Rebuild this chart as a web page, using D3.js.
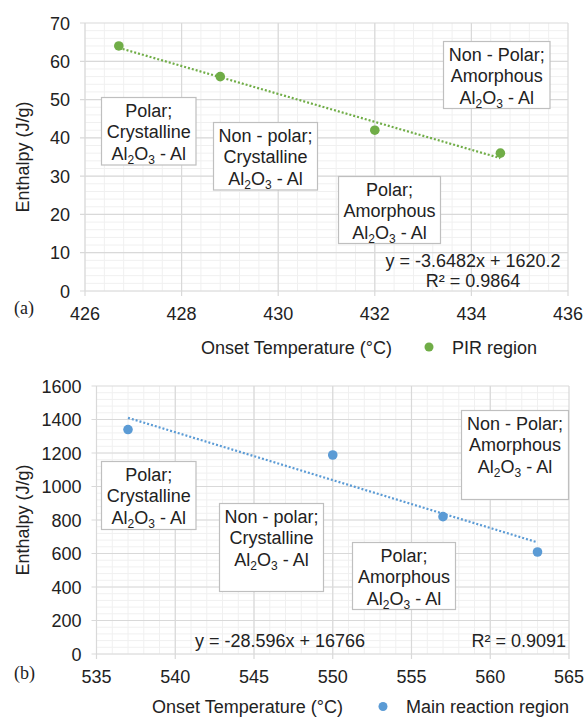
<!DOCTYPE html>
<html>
<head>
<meta charset="utf-8">
<script src="https://cdn.jsdelivr.net/npm/d3@7"></script>
<style>
  body { margin: 0; background: #fff; }
  svg text { font-family: "Liberation Sans", Arial, sans-serif; fill: #222; }
</style>
</head>
<body>
<div id="chart"></div>
<script>
// data
const pirTemp = [426.7, 428.8, 432.0, 434.6];
const pirEnthalpy = [64, 56, 42, 36];
const mainTemp = [537, 550, 557, 563];
const mainEnthalpy = [1340, 1188, 820, 609];

const pirXTicks = [426, 428, 430, 432, 434, 436];
const pirYTicks = [0, 10, 20, 30, 40, 50, 60, 70];
const mainXTicks = [535, 540, 545, 550, 555, 560, 565];
const mainYTicks = [0, 200, 400, 600, 800, 1000, 1200, 1400, 1600];

// linear fits as printed on the chart
const fitSlopes = [-3.6482, -28.596];
const fitIntercepts = [1620.2, 16766];
const fitEquations = ["y = -3.6482x + 1620.2", "y = -28.596x + 16766"];
const fitR2 = ["R² = 0.9864", "R² = 0.9091"];

const seriesNames = ["PIR region", "Main reaction region"];
const panelTags = ["(a)", "(b)"];
const boxLabels = [
    ["Polar;", "Crystalline"],
    ["Non - polar;", "Crystalline"],
    ["Non - Polar;", "Amorphous"],
    ["Polar;", "Amorphous"]
];

const FS = "18px";

const svg = d3.select("#chart").append("svg")
    .attr("width", 585)
    .attr("height", 717);

const panels = [
    {
        xs: pirTemp, ys: pirEnthalpy, xTicks: pirXTicks, yTicks: pirYTicks,
        left: 85, right: 568, top: 23, bottom: 291, color: "#70ad47",
        boxes: [
            { x: 101.5, y: 97.5, w: 94.5, h: 67.5 },
            { x: 213.5, y: 122.5, w: 104, h: 67.5 },
            { x: 443.5, y: 41.5, w: 106.5, h: 67 },
            { x: 338.5, y: 176.5, w: 102, h: 67 }
        ],
        eq: { x: 473, y: 266.5, anchor: "middle" },
        r2: { x: 473, y: 287, anchor: "middle" },
        titleX: 201, titleY: 353.5, dotX: 429, tagY: 314
    },
    {
        xs: mainTemp, ys: mainEnthalpy, xTicks: mainXTicks, yTicks: mainYTicks,
        left: 96.5, right: 569, top: 386, bottom: 654, color: "#5b9bd5",
        boxes: [
            { x: 101.5, y: 461.5, w: 94.5, h: 68 },
            { x: 219.5, y: 503.5, w: 104, h: 88 },
            { x: 461.5, y: 410.5, w: 107, h: 89 },
            { x: 352.5, y: 542.5, w: 103, h: 67 }
        ],
        eq: { x: 195, y: 646.5, anchor: "start" },
        r2: { x: 566, y: 646.5, anchor: "end" },
        titleX: 152, titleY: 713, dotX: 383, tagY: 679
    }
];

panels.forEach((p, i) => {
    const xScale = d3.scaleLinear()
        .domain(d3.extent(p.xTicks))
        .range([p.left, p.right]);
    const yScale = d3.scaleLinear()
        .domain(d3.extent(p.yTicks))
        .range([p.bottom, p.top]);

    const g = svg.append("g");

    // minor grid (5 subdivisions)
    const xStep = p.xTicks[1] - p.xTicks[0];
    const yStep = p.yTicks[1] - p.yTicks[0];
    const minorX = d3.range(p.xTicks[0], d3.max(p.xTicks), xStep / 5);
    const minorY = d3.range(p.yTicks[0], d3.max(p.yTicks), yStep / 5);

    g.selectAll(".mx").data(minorX).enter().append("line")
        .attr("x1", d => xScale(d)).attr("x2", d => xScale(d))
        .attr("y1", p.top).attr("y2", p.bottom)
        .attr("stroke", "#f0f0f0").attr("stroke-width", 1);
    g.selectAll(".my").data(minorY).enter().append("line")
        .attr("x1", p.left).attr("x2", p.right)
        .attr("y1", d => yScale(d)).attr("y2", d => yScale(d))
        .attr("stroke", "#f0f0f0").attr("stroke-width", 1);

    // major grid
    g.selectAll(".gx").data(p.xTicks).enter().append("line")
        .attr("x1", d => xScale(d)).attr("x2", d => xScale(d))
        .attr("y1", p.top).attr("y2", p.bottom + 5)
        .attr("stroke", "#d9d9d9").attr("stroke-width", 1.2);
    g.selectAll(".gy").data(p.yTicks).enter().append("line")
        .attr("x1", p.left - 5).attr("x2", p.right)
        .attr("y1", d => yScale(d)).attr("y2", d => yScale(d))
        .attr("stroke", "#d9d9d9").attr("stroke-width", 1.2);

    // tick labels
    g.selectAll(".tx").data(p.xTicks).enter().append("text")
        .attr("x", d => xScale(d))
        .attr("y", p.bottom + 28.5)
        .attr("text-anchor", "middle")
        .style("font-size", FS)
        .text(d => d);
    g.selectAll(".ty").data(p.yTicks).enter().append("text")
        .attr("x", p.left - 15)
        .attr("y", d => yScale(d) + 6.5)
        .attr("text-anchor", "end")
        .style("font-size", FS)
        .text(d => d);

    // annotation boxes
    p.boxes.forEach((b, k) => {
        g.append("rect")
            .attr("x", b.x).attr("y", b.y)
            .attr("width", b.w).attr("height", b.h)
            .attr("fill", "#fff")
            .attr("stroke", "#bfbfbf").attr("stroke-width", 1.2);
        const cx = b.x + b.w / 2;
        boxLabels[k].forEach((line, j) => {
            g.append("text")
                .attr("x", cx).attr("y", b.y + 19.5 + j * 21.3)
                .attr("text-anchor", "middle")
                .style("font-size", FS)
                .text(line);
        });
        const t = g.append("text")
            .attr("x", cx).attr("y", b.y + 19.5 + 2 * 21.3)
            .attr("text-anchor", "middle")
            .style("font-size", FS);
        t.append("tspan").text("Al");
        t.append("tspan").attr("dy", 4).style("font-size", "12px").text("2");
        t.append("tspan").attr("dy", -4).text("O");
        t.append("tspan").attr("dy", 4).style("font-size", "12px").text("3");
        t.append("tspan").attr("dy", -4).text(" - Al");
    });

    // trendline over the data range
    const x0 = d3.min(p.xs), x1 = d3.max(p.xs);
    g.append("line")
        .attr("x1", xScale(x0)).attr("y1", yScale(fitSlopes[i] * x0 + fitIntercepts[i]))
        .attr("x2", xScale(x1)).attr("y2", yScale(fitSlopes[i] * x1 + fitIntercepts[i]))
        .attr("stroke", p.color)
        .attr("stroke-width", 2.2)
        .attr("stroke-dasharray", "2,2");

    // points
    g.selectAll(".pt").data(p.xs).enter().append("circle")
        .attr("cx", d => xScale(d))
        .attr("cy", (d, j) => yScale(p.ys[j]))
        .attr("r", 4.8)
        .attr("fill", p.color);

    // fit text
    g.append("text").attr("x", p.eq.x).attr("y", p.eq.y)
        .attr("text-anchor", p.eq.anchor).style("font-size", FS)
        .text(fitEquations[i]);
    g.append("text").attr("x", p.r2.x).attr("y", p.r2.y)
        .attr("text-anchor", p.r2.anchor).style("font-size", FS)
        .text(fitR2[i]);

    // y axis title
    g.append("text")
        .attr("transform", `translate(29,${(p.top + p.bottom) / 2}) rotate(-90)`)
        .attr("text-anchor", "middle")
        .style("font-size", FS)
        .text("Enthalpy (J/g)");

    // x axis title + legend
    g.append("text")
        .attr("x", p.titleX).attr("y", p.titleY)
        .style("font-size", FS)
        .text("Onset Temperature (°C)");
    g.append("circle")
        .attr("cx", p.dotX).attr("cy", p.titleY - 6.5)
        .attr("r", 4.5).attr("fill", p.color);
    g.append("text")
        .attr("x", p.dotX + 23).attr("y", p.titleY)
        .style("font-size", FS)
        .text(seriesNames[i]);

    // panel tag
    g.append("text")
        .attr("x", 14).attr("y", p.tagY)
        .style("font-family", "'Liberation Serif', 'Times New Roman', serif")
        .style("font-size", FS)
        .text(panelTags[i]);
});
</script>
</body>
</html>
